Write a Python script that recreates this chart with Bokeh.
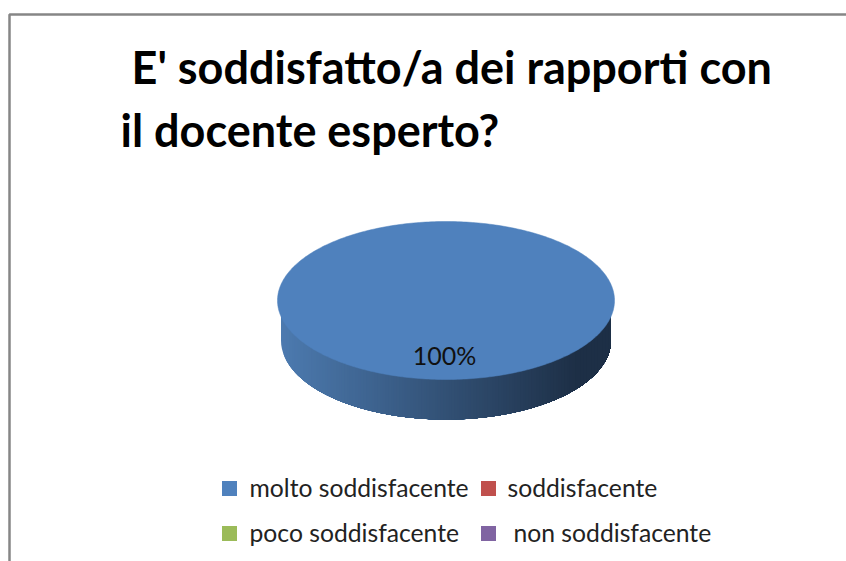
import math
from bokeh.plotting import figure
from bokeh.models import Range1d
from bokeh.core.properties import value
from bokeh.embed import file_html
from bokeh.resources import INLINE

# Data
categories = ["molto soddisfacente", "soddisfacente", "poco soddisfacente", "non soddisfacente"]
shares = [100, 0, 0, 0]
title_lines = ["E' soddisfatto/a dei rapporti con", "il docente esperto?"]
colors = ["#4F81BD", "#C0504D", "#9BBB59", "#8064A2"]

# Layout (pixel-like coordinates of the page)
CX, CY, RX, RY, DEPTH = 445.5, 300, 168.5, 79, 40
SIDE_RX = 165
FONT = value("Lato")
title_pos = [(131, 66), (120, 129)]
legend_pos = [(222, 249, 487), (481, 507, 487), (222, 249, 532), (481, 513, 532)]
SWATCH_Y_OFFSET = 1

p = figure(width=846, height=561, output_backend="svg", toolbar_location=None,
           x_range=Range1d(0, 846), y_range=Range1d(561, 0), min_border=0,
           background_fill_color="white", border_fill_color="white")
p.axis.visible = False
p.grid.visible = False
p.outline_line_color = None

# Frame
p.line([9, 9, 846], [561, 14, 14], line_color="#868686", line_width=2.5)


def lerp(a, b, t):
    return int(round(a + (b - a) * t))


# Side of the disc: shaded strips, each one running on to the right edge so
# that the next strip covers its seam
n = 120
left_col, right_col = (76, 122, 175), (29, 47, 70)
for i in range(n):
    x0 = -1 + 2 * i / n
    th0 = math.acos(x0)
    steps = 60
    xs, top, bot = [], [], []
    for s in range(steps + 1):
        th = th0 * (1 - s / steps)
        xs.append(CX + SIDE_RX * math.cos(th))
        h = math.sin(th)
        top.append(CY + RY * h)
        bot.append(CY + DEPTH + RY * h)
    t = (x0 + 1) / 2
    c = "#%02x%02x%02x" % tuple(lerp(a, b, min(1, t * 1.12)) for a, b in zip(left_col, right_col))
    p.patch(xs + xs[::-1], top + bot[::-1], fill_color=c, line_color=None)

# Top of the disc, one slice per non-empty share
total = sum(shares)
start = -math.pi / 2
for share, col in zip(shares, colors):
    if share == 0:
        continue
    sweep = 2 * math.pi * share / total
    pts = [start + sweep * k / 360 for k in range(361)]
    xs = [CX + RX * math.cos(a) for a in pts]
    ys = [CY + RY * math.sin(a) for a in pts]
    p.patch(xs, ys, fill_color=col, line_color=col, line_width=0.5)
    start += sweep

p.text([444], [354], text=[f"{shares[0]}%"], text_font=FONT, text_font_size="25px",
       text_color="#111111", text_align="center", text_baseline="alphabetic")

# Title
for line, (x, y) in zip(title_lines, title_pos):
    p.text([x], [y], text=[line], text_font=FONT, text_font_size="45px",
           text_font_style="bold", text_color="#000000", text_baseline="alphabetic")

# Legend
for cat, col, (sx, tx, by) in zip(categories, colors, legend_pos):
    p.scatter([sx + 7], [by + SWATCH_Y_OFFSET], marker="square", size=15, fill_color=col, line_color=None)
    p.text([tx], [by], text=[cat], text_font=FONT, text_font_size="24.7px",
           text_color="#222222", text_baseline="alphabetic")

open("out.html", "w").write(file_html(p, INLINE))
